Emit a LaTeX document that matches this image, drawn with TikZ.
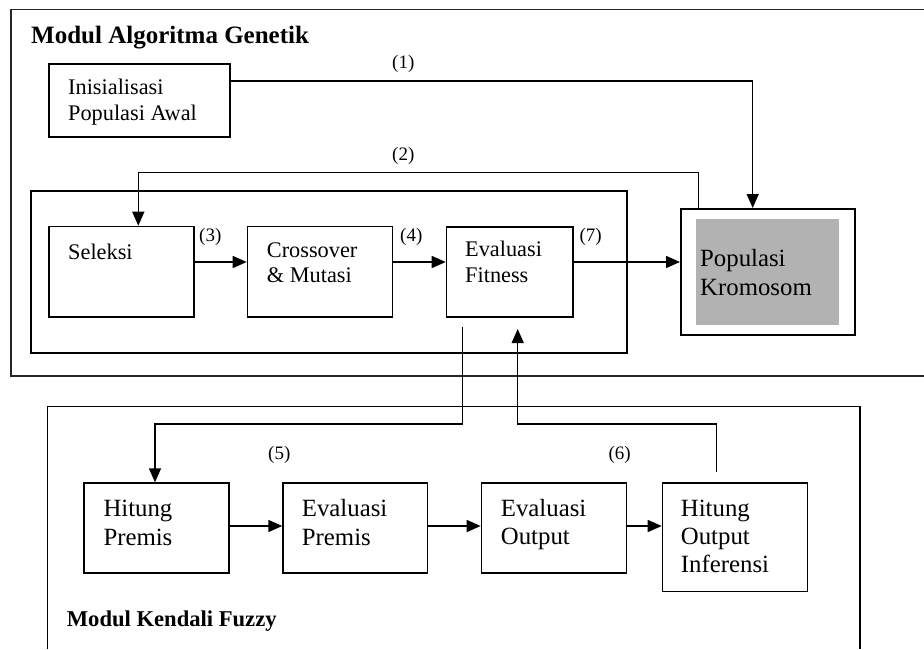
\documentclass[tikz,border=0pt]{standalone}
\usepackage{fontspec}
\setmainfont{Liberation Serif}
\usetikzlibrary{arrows.meta}
\definecolor{popgray}{HTML}{B2B2B2}
\begin{document}
\begin{tikzpicture}[x=1pt,y=-1pt,
  box/.style={draw, line width=1.5pt, inner sep=0pt, anchor=north west},
  arr/.style={line width=1.5pt, -{Triangle[length=14pt,width=12pt]}},
  ln/.style={line width=1.5pt},
  frame/.style={line width=1.7pt, draw=black!85},
  ta/.style={anchor=base west, inner sep=0pt, font=\fontsize{22.3}{26}\selectfont},
  tb/.style={anchor=base west, inner sep=0pt, font=\fontsize{24.8}{29}\selectfont},
  lbl/.style={anchor=base west, inner sep=0pt, font=\fontsize{19}{22}\selectfont},
  ttl/.style={anchor=base west, inner sep=0pt, font=\bfseries\fontsize{25}{29}\selectfont},
  ttlb/.style={anchor=base west, inner sep=0pt, font=\bfseries\fontsize{22.6}{27}\selectfont}]
\useasboundingbox (0,0) rectangle (924,649);

% module frames
\draw[frame] (924,9.5) -- (11,9.5) -- (11,376) -- (924,376);
\draw[ln] (47.7,649) -- (47.7,406.7) -- (860,406.7) -- (860,649);
\node[ttl] (tgen) at (31,43) {Modul Algoritma Genetik};
\node[ttlb] (tfuz) at (66.7,626.7) {Modul Kendali Fuzzy};

% genetic module boxes
\node[box, minimum width=181pt, minimum height=73pt] (init) at (48,63) {};
\node[box, minimum width=596pt, minimum height=162pt] (loop) at (30,190) {};
\node[box, minimum width=145pt, minimum height=90.3pt] (sel) at (48.3,225.7) {};
\node[box, minimum width=145pt, minimum height=90.3pt] (cross) at (246.7,225.7) {};
\node[box, minimum width=126.6pt, minimum height=90pt] (fit) at (445.7,226) {};
\node[box, minimum width=174pt, minimum height=126pt] (pop) at (680,208) {};
\node[anchor=north west, fill=popgray, inner sep=0pt, minimum width=143pt, minimum height=106pt] (popin) at (696,218.3) {};

\node[ta] (t1a) at (68,94) {Inisialisasi};
\node[ta] (t1b) at (68,120) {Populasi Awal};
\node[ta] (t2a) at (68,259) {Seleksi};
\node[ta] (t3a) at (266.7,257) {Crossover};
\node[ta] (t3b) at (266.7,282.7) {\& Mutasi};
\node[ta] (t4a) at (465,256.7) {Evaluasi};
\node[ta] (t4b) at (465,282.3) {Fitness};
\node[tb] (t5a) at (700,266.7) {Populasi};
\node[tb] (t5b) at (700,295.7) {Kromosom};

% fuzzy module boxes
\node[box, minimum width=145pt, minimum height=90pt] (hp) at (83.3,482.3) {};
\node[box, minimum width=144.4pt, minimum height=90pt] (ep) at (282.3,482.3) {};
\node[box, minimum width=145pt, minimum height=90pt] (eo) at (480.7,482.3) {};
\node[box, minimum width=145pt, minimum height=108.4pt] (ho) at (661.7,482.3) {};

\node[tb] (t6a) at (103.3,516.7) {Hitung};
\node[tb] (t6b) at (103.3,545) {Premis};
\node[tb] (t7a) at (301.7,516.7) {Evaluasi};
\node[tb] (t7b) at (301.7,545) {Premis};
\node[tb] (t8a) at (500.7,516.7) {Evaluasi};
\node[tb] (t8b) at (500.7,544.3) {Output};
\node[tb] (t9a) at (680.7,516.7) {Hitung};
\node[tb] (t9b) at (680.7,544.3) {Output};
\node[tb] (t9c) at (680.7,572.3) {Inferensi};

% labels
\node[lbl] (l1) at (392,68) {(1)};
\node[lbl] (l2) at (392,160) {(2)};
\node[lbl] (l3) at (199,241.7) {(3)};
\node[lbl] (l4) at (400,241.7) {(4)};
\node[lbl] (l7) at (579.3,241.7) {(7)};
\node[lbl] (l5) at (268,459.3) {(5)};
\node[lbl] (l6) at (608.3,459.3) {(6)};

% routing coordinates
\coordinate (c1) at (752.7,81);
\coordinate (c2r) at (698.7,172.3);
\coordinate (c2l) at (138.3,172.3);
\coordinate (rowg) at (0,262);
\coordinate (s5) at (462.7,327.3);
\coordinate (c5r) at (462.7,424);
\coordinate (c5l) at (155,424);
\coordinate (s6) at (716.7,471.7);
\coordinate (c6r) at (716.7,424);
\coordinate (c6l) at (517.7,424);
\coordinate (e6) at (517.7,329);
\coordinate (rowf) at (0,526);

% connectors
\draw[arr] (init.east |- c1) -- (c1) -- (pop.north -| c1);
\draw[arr] (pop.north -| c2r) -- (c2r) -- (c2l) -- (sel.north -| c2l);
\draw[arr] (sel.east |- rowg) -- (cross.west |- rowg);
\draw[arr] (cross.east |- rowg) -- (fit.west |- rowg);
\draw[arr] (fit.east |- rowg) -- (pop.west |- rowg);
\draw[arr] (s5) -- (c5r) -- (c5l) -- (hp.north -| c5l);
\draw[arr] (s6) -- (c6r) -- (c6l) -- (e6);
\draw[arr] (hp.east |- rowf) -- (ep.west |- rowf);
\draw[arr] (ep.east |- rowf) -- (eo.west |- rowf);
\draw[arr] (eo.east |- rowf) -- (ho.west |- rowf);
\end{tikzpicture}
\end{document}
